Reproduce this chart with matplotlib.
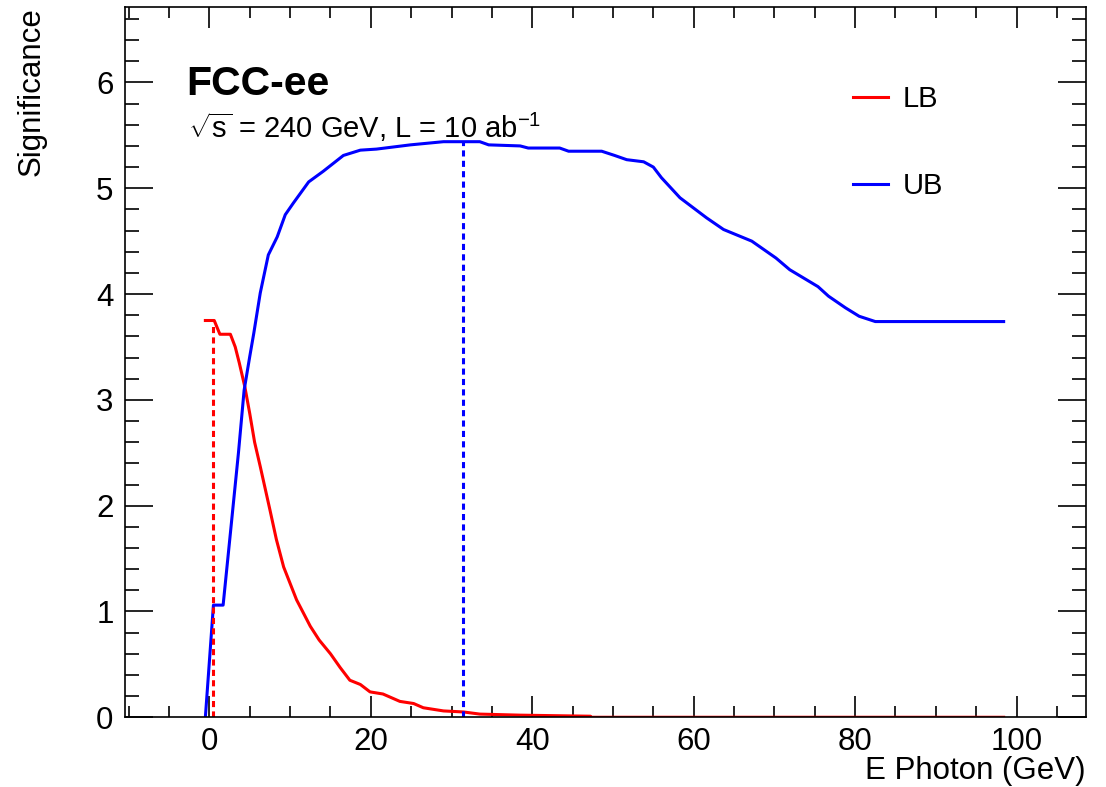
# Significance scan vs photon energy cut (FCC-ee)

import numpy as np
import matplotlib.pyplot as plt
from matplotlib.ticker import MultipleLocator

plt.rcParams['font.family'] = ['Liberation Sans', 'DejaVu Sans']
plt.rcParams['mathtext.fontset'] = 'custom'
plt.rcParams['mathtext.rm'] = 'Liberation Sans'
plt.rcParams['mathtext.it'] = 'Liberation Sans:italic'

# Upper bound (UB) scan
ub_x = [-0.5, 0.5, 1.7, 2.6, 3.6, 4.3, 5.0, 5.5, 6.3, 7.3, 8.4, 9.4, 10.4, 12.3, 14.1,
        16.6, 18.7, 20.7, 22.8, 24.9, 29.0, 33.5, 34.6, 38.5, 39.5, 43.4, 44.5, 48.6,
        50.2, 51.7, 53.8, 55.0, 56.0, 58.3, 61.6, 63.7, 67.2, 70.2, 71.9, 75.4, 76.7,
        78.8, 80.5, 82.5, 98.4]
ub_y = [0.0, 1.06, 1.06, 1.74, 2.5, 3.09, 3.41, 3.63, 4.01, 4.37, 4.54, 4.75, 4.86, 5.06, 5.16,
        5.31, 5.36, 5.37, 5.39, 5.41, 5.44, 5.44, 5.41, 5.40, 5.38, 5.38, 5.35, 5.35,
        5.31, 5.27, 5.25, 5.20, 5.10, 4.91, 4.72, 4.61, 4.50, 4.34, 4.23, 4.07, 3.98,
        3.87, 3.79, 3.74, 3.74]

# Lower bound (LB) scan
lb_x = [-0.5, 0.6, 1.3, 2.6, 3.2, 3.7, 4.4, 5.0, 5.6, 6.3, 7.5, 8.3, 9.2, 10.8, 12.5, 13.6, 15.0,
        16.2, 17.4, 18.7, 19.9, 21.5, 23.6, 25.3, 26.5, 29.0, 31.5, 33.5, 38.5, 47.2, 47.3, 98.4]
lb_y = [3.75, 3.75, 3.62, 3.62, 3.50, 3.35, 3.12, 2.87, 2.60, 2.37, 1.96, 1.68, 1.42, 1.11, 0.86, 0.73,
        0.60, 0.47, 0.35, 0.31, 0.24, 0.22, 0.15, 0.13, 0.09, 0.06, 0.05, 0.03, 0.02, 0.01, 0.0, 0.0]

# best cuts (x, max significance)
lb_cut, lb_best = 0.5, 3.73
ub_cut, ub_best = 31.4, 5.44

fig = plt.figure(figsize=(11.06, 7.87), dpi=100)
ax = fig.add_axes([0.1127, 0.0886, 0.8692, 0.9021])

ax.plot(lb_x, lb_y, color='#ff0000', lw=2.2, label='LB')
ax.plot(ub_x, ub_y, color='#0000ff', lw=2.2, label='UB')
ax.plot([lb_cut, lb_cut], [0, lb_best], color='#ff0000', lw=2.2, ls=(0, (2, 1.4)))
ax.plot([ub_cut, ub_cut], [0, ub_best], color='#0000ff', lw=2.2, ls=(0, (2, 1.4)))

ax.set_xlim(-10.5, 108.6)
ax.set_ylim(0, 6.71)

ax.xaxis.set_major_locator(MultipleLocator(20))
ax.xaxis.set_minor_locator(MultipleLocator(5))
ax.yaxis.set_major_locator(MultipleLocator(1))
ax.yaxis.set_minor_locator(MultipleLocator(0.2))
ax.tick_params(which='both', direction='in', top=True, right=True, labelsize=22.5, width=1.2)
ax.tick_params(axis='x', which='major', length=15, pad=7)
ax.tick_params(axis='x', which='minor', length=8)
ax.tick_params(axis='y', which='major', length=20, pad=8)
ax.tick_params(axis='y', which='minor', length=10)
for s in ax.spines.values():
    s.set_linewidth(1.2)

fig.text(1086 / 1106, 1 - 779 / 787, 'E Photon (GeV)', ha='right', va='baseline', fontsize=22.5)
fig.text(32 / 1106, 1 - 7 / 787, 'Significance', ha='center', va='top', rotation=90, fontsize=22.5)

ax.text(0.0645, 0.8765, 'FCC-ee', transform=ax.transAxes, fontsize=29.5, fontweight='bold',
        va='baseline')
ax.text(0.066, 0.816, r'$\sqrt{\mathrm{s}}$ = 240 GeV, L = 10 ab$^{\mathrm{-1}}$',
        transform=ax.transAxes, fontsize=21, va='baseline')

ax.legend(loc='upper left', bbox_to_anchor=(0.73, 0.927), frameon=False, fontsize=21,
          handlelength=1.2, handletextpad=0.5, labelspacing=2.0)

plt.savefig('out.png')
